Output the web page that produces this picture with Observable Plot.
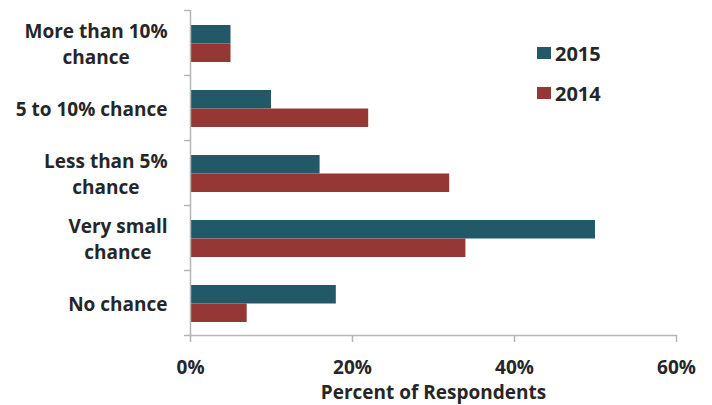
<!DOCTYPE html>
<html>
<head>
<meta charset="utf-8">
<script src="https://cdn.jsdelivr.net/npm/d3@7"></script>
<script src="https://cdn.jsdelivr.net/npm/@observablehq/plot@0.6"></script>
<style>
  html, body { margin: 0; padding: 0; background: #fff; }
  #wrap { position: relative; width: 712px; height: 405px; font-family: "Open Sans", sans-serif; font-weight: bold; color: #262626; }
  #legend { position: absolute; left: 537px; top: 39px; font-size: 20px; }
  #legend .item { display: flex; align-items: center; height: 28px; margin-bottom: 12px; }
  #legend .sw { width: 14px; height: 12px; margin-right: 4px; }
</style>
</head>
<body>
<div id="wrap"><div id="legend"></div></div>
<script>
// Survey answers, top to bottom
const categories = ["More than 10%\nchance", "5 to 10% chance", "Less than 5%\nchance", "Very small\nchance", "No chance"];
const values2015 = [5, 10, 16, 50, 18];
const values2014 = [5, 22, 32, 34, 7];
const seriesNames = ["2015", "2014"];
const seriesColors = ["#215968", "#953735"];
const xTicks = [0, 20, 40, 60];
const xTitle = "Percent of Respondents";

const rows2015 = categories.map((c, i) => ({category: c, value: values2015[i]}));
const rows2014 = categories.map((c, i) => ({category: c, value: values2014[i]}));
const firstEdges = categories.map(c => ({category: c}));
const lastEdge = [{category: categories[categories.length - 1]}];

const bandH = 65;
const axisColor = "#b5b5b5";
const fontFamily = "'Open Sans', sans-serif";
const fontSize = 19;

// Category labels: lines centred on each other, block right-aligned next to the axis
const ctx = document.createElement("canvas").getContext("2d");
ctx.font = `bold ${fontSize}px ${fontFamily}`;
const blockWidth = label => Math.max(...label.split("\n").map(s => ctx.measureText(s).width));
const labelGap = 23;
const labelMarks = categories.map(c =>
  Plot.text([c], {y: d => d, x: 0, text: d => d, textAnchor: "middle", lineHeight: 1.37,
    dx: -(labelGap + blockWidth(c) / 2), fontSize, fill: "#262626"})
);

const chart = Plot.plot({
  width: 712,
  height: 405,
  marginLeft: 190,
  marginRight: 36,
  marginTop: 10,
  marginBottom: 70,
  style: {fontFamily, fontWeight: "bold", fontSize: fontSize + "px", color: "#262626", background: "transparent"},
  x: {domain: [0, 60]},
  y: {domain: categories, padding: 0, axis: null},
  marks: [
    Plot.barX(rows2015, {y: "category", x: "value", fill: seriesColors[0], insetTop: 15, insetBottom: bandH - 15 - 18.5}),
    Plot.barX(rows2014, {y: "category", x: "value", fill: seriesColors[1], insetTop: 33.5, insetBottom: 13}),
    Plot.ruleX([0], {stroke: axisColor, strokeWidth: 1.5}),
    Plot.frame({anchor: "bottom", stroke: axisColor, strokeWidth: 1.5}),
    Plot.ruleY(firstEdges, {y: "category", dy: -bandH / 2, x1: -0.75, x2: 0, stroke: axisColor, strokeWidth: 1.5}),
    Plot.ruleY(lastEdge, {y: "category", dy: bandH / 2, x1: -0.75, x2: 0, stroke: axisColor, strokeWidth: 1.5}),
    ...labelMarks,
    Plot.axisX({ticks: xTicks, tickFormat: d => d + "%", tickSize: 7, tickPadding: 18, stroke: axisColor, strokeWidth: 1.5,
      label: null, fontSize}),
    Plot.text([xTitle], {frameAnchor: "bottom", text: d => d, dy: 63, fontSize, fill: "#262626"})
  ]
});
document.getElementById("wrap").prepend(chart);

const legend = document.getElementById("legend");
seriesNames.forEach((name, i) => {
  const item = document.createElement("div");
  item.className = "item";
  item.innerHTML = `<span class="sw" style="background:${seriesColors[i]}"></span><span>${name}</span>`;
  legend.appendChild(item);
});
</script>
</body>
</html>
